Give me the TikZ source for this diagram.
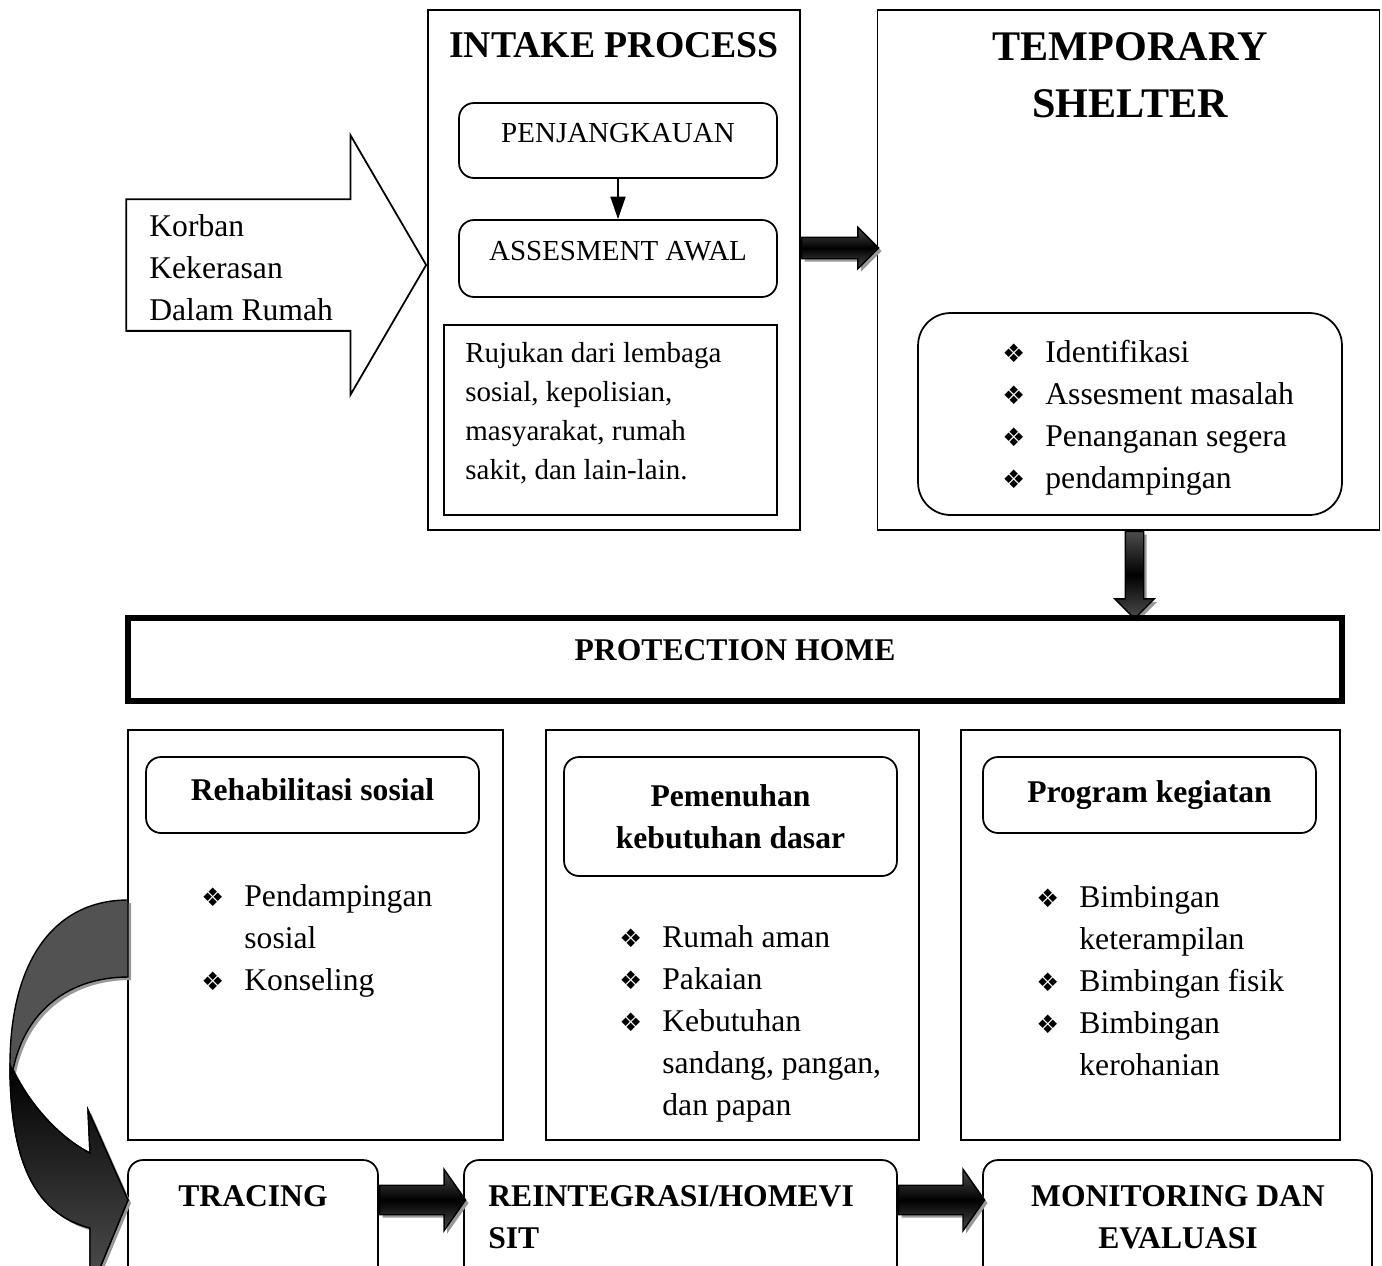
\documentclass[tikz,border=0pt]{standalone}
\usepackage{fontspec}
\setmainfont{Liberation Serif}
\newfontfamily\symfont{DejaVu Sans}
\usetikzlibrary{
  shapes.arrows,
  arrows.meta,
  shadows,
}

\newcommand\bul{\makebox[24.5pt][l]{\symfont\fontsize{14.5}{14.5}\selectfont ❖}}
\newcommand\nobul{\hspace*{24.5pt}}

\tikzset{
  plainbox/.style={draw, line width=1pt, inner sep=0pt},
  roundbox/.style={plainbox, rounded corners=0.3cm},
  txt/.style={font=\fontsize{18}{24}\selectfont, inner sep=0pt, align=left},
  bold/.style={font=\fontsize{18}{24}\selectfont\bfseries, inner sep=0pt, align=center},
  fatarrow/.style={single arrow, draw, line width=0.8pt,
    single arrow head indent=0pt,
    top color=black!70, bottom color=black!70, middle color=black,
    drop shadow={shadow xshift=0.06cm, shadow yshift=-0.06cm, fill=black!40, opacity=1}},
}

\begin{document}
\begin{tikzpicture}[x=0.02cm, y=-0.02cm]
  \clip (0,0) rectangle (1382,1265);

  % intake
  \node[plainbox, minimum width=7.44cm, minimum height=10.4cm] (intake) at (614,270) {};
  \node[bold, font=\fontsize{21.5}{24}\selectfont\bfseries] at (614,45) {INTAKE PROCESS};
  \node[roundbox, minimum width=6.36cm, minimum height=1.5cm] (jangkau) at (618,140.5) {};
  \node[font=\fontsize{16.5}{20}\selectfont, inner sep=0pt] at (618,133) {PENJANGKAUAN};
  \node[roundbox, minimum width=6.36cm, minimum height=1.54cm] (awal) at (618,258.5) {};
  \node[font=\fontsize{16.5}{20}\selectfont, inner sep=0pt] at (618,251) {ASSESMENT AWAL};
  \draw[line width=1pt, -{Triangle[length=0.45cm, width=0.3cm]}] (jangkau) -- (awal);
  \node[plainbox, minimum width=6.66cm, minimum height=3.8cm] (rujuk) at (610.5,420) {};
  \node[txt, font=\fontsize{16.5}{22.2}\selectfont, anchor=west] at (465,413.5) {Rujukan dari lembaga\\sosial, kepolisian,\\masyarakat, rumah\\sakit, dan lain-lain.};

  % victim arrow
  \node[single arrow, draw, line width=1pt, inner sep=1.3cm, minimum height=6cm,
    single arrow head extend=1.28cm, single arrow tip angle=119.5, anchor=tip] (korban) at ([yshift=0.1cm]intake.west) {};
  \node[txt, anchor=west] at (149,268) {Korban\\Kekerasan\\Dalam Rumah};

  % shelter
  \node[plainbox, minimum width=10.04cm, minimum height=10.4cm] (shelter) at (1128.5,270) {};
  \node[bold, font=\fontsize{24}{32.4}\selectfont\bfseries] at (1130,75) {TEMPORARY\\SHELTER};
  \node[roundbox, rounded corners=0.65cm, minimum width=8.48cm, minimum height=4.04cm] (layan) at (1130,414) {};
  \node[txt, anchor=west] at (1002,418) {\bul Identifikasi\\\bul Assesment masalah\\\bul Penanganan segera\\\bul pendampingan};

  \node[fatarrow, inner sep=0.2cm, minimum height=1.54cm, single arrow head extend=0.2cm, anchor=tail] (arrA) at ([yshift=0.44cm]intake.east) {};
  \node[fatarrow, shape border rotate=270, inner sep=0.17cm, minimum height=1.74cm, single arrow head extend=0.21cm, anchor=tail] (arrB) at ([xshift=0.12cm]shelter.south) {};

  % protection home
  \node[draw, line width=3.4pt, inner sep=0pt, minimum width=24.3cm, minimum height=1.67cm] (protect) at (735,659.5) {};
  \node[bold] at (735,650) {PROTECTION HOME};

  \node[plainbox, minimum width=7.5cm, minimum height=8.2cm] (kolA) at (315.5,935) {};
  \node[plainbox, minimum width=7.46cm, minimum height=8.2cm] (kolB) at (732.5,935) {};
  \node[plainbox, minimum width=7.58cm, minimum height=8.2cm] (kolC) at (1150.5,935) {};
  \node[roundbox, minimum width=6.66cm, minimum height=1.52cm] (rehab) at (312.5,795) {};
  \node[bold] at (312.5,790) {Rehabilitasi sosial};
  \node[roundbox, bold, minimum width=6.66cm, minimum height=2.38cm] (penuh) at (730.5,816.5) {Pemenuhan\\kebutuhan dasar};
  \node[roundbox, bold, minimum width=6.66cm, minimum height=1.52cm] (progr) at (1149.5,795) {Program kegiatan};
  \node[txt, anchor=west] at (201,941) {\bul Pendampingan\\\nobul sosial\\\bul Konseling};
  \node[txt, anchor=west] at (619,1024) {\bul Rumah aman\\\bul Pakaian\\\bul Kebutuhan\\\nobul sandang, pangan,\\\nobul dan papan};
  \node[txt, anchor=west] at (1036,980.5) {\bul Bimbingan\\\nobul keterampilan\\\bul Bimbingan fisik\\\bul Bimbingan\\\nobul kerohanian};

  % bottom row
  \node[roundbox, minimum width=5cm, minimum height=2.6cm] (tracing) at (253,1225) {};
  \node[bold] at (253,1196) {TRACING};
  \node[roundbox, minimum width=8.66cm, minimum height=2.6cm] (reinteg) at (680.5,1225) {};
  \node[bold, align=left, anchor=west] at (488,1217) {REINTEGRASI/HOMEVI\\SIT};
  \node[roundbox, minimum width=7.78cm, minimum height=2.6cm] (monev) at (1177.5,1225) {};
  \node[bold] at (1178,1217) {MONITORING DAN\\EVALUASI};

  \node[fatarrow, inner sep=0.28cm, minimum height=1.72cm, single arrow head extend=0.32cm, single arrow tip angle=110, anchor=tail] (arrC) at ([yshift=0.5cm]tracing.east) {};
  \node[fatarrow, inner sep=0.28cm, minimum height=1.72cm, single arrow head extend=0.32cm, single arrow tip angle=110, anchor=tail] (arrD) at ([yshift=0.5cm]reinteg.east) {};

  % curved arrow back to tracing
  \def\curvpath{(128,900) .. controls (55,900) and (10,960) .. (10,1065)
    .. controls (10,1170) and (40,1215) .. (90,1228) -- (90,1292) -- (128,1200) -- (88,1110) -- (90,1153)
    .. controls (60,1138) and (30,1105) .. (13,1070) .. controls (25,1010) and (70,977) .. (128,977) -- cycle}
  \begin{scope}[xshift=0.06cm, yshift=-0.06cm]
    \fill[black!40] \curvpath;
  \end{scope}
  \filldraw[fill=black!68, line width=0.8pt] \curvpath;
  \shadedraw[top color=black, bottom color=black!68, line width=0.8pt] (10,1065)
    .. controls (10,1170) and (40,1215) .. (90,1228) -- (90,1292) -- (128,1200) -- (88,1110) -- (90,1153)
    .. controls (60,1138) and (30,1105) .. (13,1070) -- cycle;
\end{tikzpicture}
\end{document}
